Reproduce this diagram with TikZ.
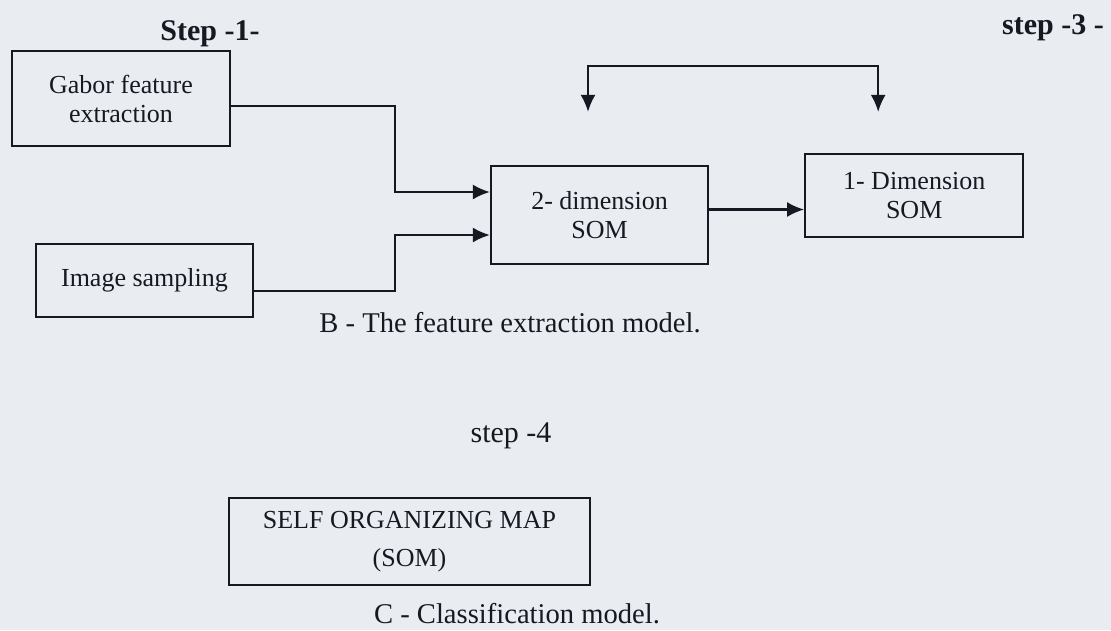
\documentclass[tikz,border=0pt]{standalone}
\usepackage{fontspec}
\setmainfont{Liberation Serif}
\usepackage{xcolor}
\usepackage{tikz}
\usetikzlibrary{positioning,arrows.meta}

\definecolor{paper}{RGB}{233,236,241}
\definecolor{ink}{RGB}{24,24,34}

\begin{document}
\begin{tikzpicture}[
    x=1pt, y=-1pt,
    font=\fontsize{26}{29}\selectfont, text=ink,
    >={Latex[length=17pt,width=15pt]},
    blk/.style={
      rectangle, draw=ink, line width=2.2pt, align=center, inner sep=0pt
    },
    steplabel/.style={font=\fontsize{30}{34}\selectfont\bfseries, anchor=base},
    caption/.style={font=\fontsize{28.6}{32}\selectfont, anchor=base},
    rel/.style={->, line width=2.2pt, draw=ink}
  ]
    \fill[paper] (0,0) rectangle (1111,630);
    \useasboundingbox (0,0) rectangle (1111,630);

    % feature extraction model
    \node[blk, minimum width=218pt, minimum height=95pt] (gabor) at (121,98.5)
      {Gabor feature\\extraction};
    \node[blk, minimum width=217pt, minimum height=73pt, below=96pt of gabor, xshift=23.5pt] (sampling)
      {Image sampling};
    \node[blk, minimum width=217pt, minimum height=98pt] (twod) at (599.5,215)
      {2- dimension\\SOM};
    \node[blk, minimum width=218pt, minimum height=83pt, right=95pt of twod, yshift=19.5pt] (oned)
      {1- Dimension\\SOM};

    \draw[rel] ([yshift=-7.5pt]gabor.east) -| ([xshift=-95pt,yshift=23pt]twod.west) -- ([yshift=23pt]twod.west);
    \draw[rel] ([yshift=-10.5pt]sampling.east) -| ([xshift=-95pt,yshift=-20pt]twod.west) -- ([yshift=-20pt]twod.west);
    \draw[rel] ([yshift=5.5pt]twod.east) -- ([yshift=5.5pt]twod.east -| oned.west);

    % feedback loop
    \coordinate (fbl) at ([xshift=-11.5pt,yshift=53pt]twod.north);
    \coordinate (fbr) at ([xshift=-36pt,yshift=41pt]oned.north);
    \coordinate (fbtop) at ([yshift=46pt]fbl);
    \draw[rel, <->] (fbl) -- (fbtop) -- (fbtop -| fbr) -- (fbr);

    \node[steplabel] (step1) at (210,40) {Step -1-};
    \node[steplabel] (step3) at (1053,34) {step -3 -};
    \node[caption] (capB) at (510,332) {B - The feature extraction model.};

    % classification model
    \node[caption, font=\fontsize{30}{34}\selectfont] (step4) at (511,442) {step -4};
    \node[blk, minimum width=361pt, minimum height=87pt] (som) at (409.5,541.5)
      {SELF ORGANIZING MAP\\[9pt](SOM)};
    \node[caption] (capC) at (517,623) {C - Classification model.};
\end{tikzpicture}
\end{document}
